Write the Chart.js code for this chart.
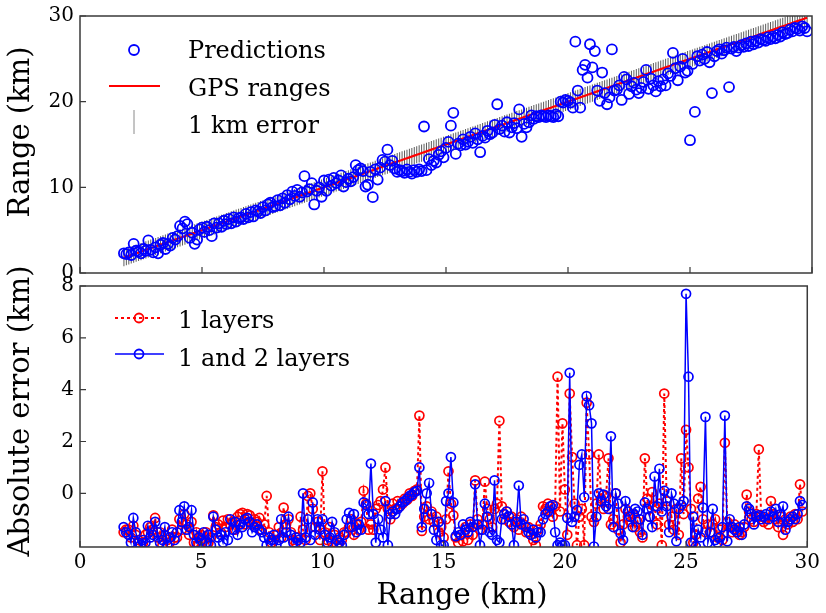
<!DOCTYPE html>
<html>
<head>
<meta charset="utf-8">
<title>Range predictions</title>
<script src="https://cdn.jsdelivr.net/npm/chart.js@4.4.1/dist/chart.umd.min.js"></script>
<style>
  html, body { margin: 0; padding: 0; background: #fff; }
  #wrap { position: relative; width: 826px; height: 613px; overflow: hidden; }
  #wrap canvas { position: absolute; left: 0; }
  #topChart { top: 0; }
  #bottomChart { top: 250px; }
</style>
</head>
<body>
<div id="wrap">
  <canvas id="topChart" width="826" height="300"></canvas>
  <canvas id="bottomChart" width="826" height="363"></canvas>
</div>
<script>
// GPS ranges (km), one per sample
const ranges = [
  1.8, 1.9,
  2.0, 2.1, 2.2, 2.3, 2.4, 2.5, 2.6, 2.7, 2.8, 2.9,
  3.0, 3.1, 3.2, 3.3, 3.4, 3.5, 3.6, 3.7, 3.8, 3.9,
  4.0, 4.1, 4.2, 4.3, 4.4, 4.5, 4.6, 4.7, 4.8, 4.9,
  5.0, 5.1, 5.2, 5.3, 5.4, 5.5, 5.6, 5.7, 5.8, 5.9,
  6.0, 6.1, 6.2, 6.3, 6.4, 6.5, 6.6, 6.7, 6.8, 6.9,
  7.0, 7.1, 7.2, 7.3, 7.4, 7.5, 7.6, 7.7, 7.8, 7.9,
  8.0, 8.1, 8.2, 8.3, 8.4, 8.5, 8.6, 8.7, 8.8, 8.9,
  9.0, 9.1, 9.2, 9.3, 9.4, 9.5, 9.6, 9.7, 9.8, 9.9,
  10.0, 10.1, 10.2, 10.3, 10.4, 10.5, 10.6, 10.7, 10.8, 10.9,
  11.0, 11.1, 11.2, 11.3, 11.4, 11.5, 11.6, 11.7, 11.8, 11.9,
  12.0, 12.1, 12.2, 12.3, 12.4, 12.5, 12.6, 12.7, 12.8, 12.9,
  13.0, 13.1, 13.2, 13.3, 13.4, 13.5, 13.6, 13.7, 13.8, 13.9,
  14.0, 14.1, 14.2, 14.3, 14.4, 14.5, 14.6, 14.7, 14.8, 14.9,
  15.0, 15.1, 15.2, 15.3, 15.4, 15.5, 15.6, 15.7, 15.8, 15.9,
  16.0, 16.1, 16.2, 16.3, 16.4, 16.5, 16.6, 16.7, 16.8, 16.9,
  17.0, 17.1, 17.2, 17.3, 17.4, 17.5, 17.6, 17.7, 17.8, 17.9,
  18.0, 18.1, 18.2, 18.3, 18.4, 18.5, 18.6, 18.7, 18.8, 18.9,
  19.0, 19.1, 19.2, 19.3, 19.4, 19.5, 19.6, 19.7, 19.8, 19.9,
  20.0, 20.1, 20.2, 20.3, 20.4, 20.5, 20.6, 20.7, 20.8, 20.9,
  21.0, 21.1, 21.2, 21.3, 21.4, 21.5, 21.6, 21.7, 21.8, 21.9,
  22.0, 22.1, 22.2, 22.3, 22.4, 22.5, 22.6, 22.7, 22.8, 22.9,
  23.0, 23.1, 23.2, 23.3, 23.4, 23.5, 23.6, 23.7, 23.8, 23.9,
  24.0, 24.1, 24.2, 24.3, 24.4, 24.5, 24.6, 24.7, 24.8, 24.9,
  25.0, 25.1, 25.2, 25.3, 25.4, 25.5, 25.6, 25.7, 25.8, 25.9,
  26.0, 26.1, 26.2, 26.3, 26.4, 26.5, 26.6, 26.7, 26.8, 26.9,
  27.0, 27.1, 27.2, 27.3, 27.4, 27.5, 27.6, 27.7, 27.8, 27.9,
  28.0, 28.1, 28.2, 28.3, 28.4, 28.5, 28.6, 28.7, 28.8, 28.9,
  29.0, 29.1, 29.2, 29.3, 29.4, 29.5, 29.6, 29.7, 29.8
];

// predicted ranges (km)
const predictions = [
  2.3, 2.2,
  2.4, 2.1, 3.4, 2.6, 2.5, 2.3, 2.8, 2.6, 3.8, 2.7,
  2.4, 3.0, 2.3, 3.3, 3.5, 2.8, 3.4, 3.2, 4.1, 3.9,
  4.3, 5.5, 5.2, 6.0, 5.7, 4.1, 4.7, 3.4, 3.9, 5.1,
  5.3, 4.8, 5.4, 5.0, 4.3, 5.8, 5.3, 5.8, 5.4, 6.1,
  5.7, 6.3, 5.8, 6.5, 6.0, 6.4, 6.5, 6.3, 6.9, 6.5,
  7.1, 6.6, 7.3, 7.2, 7.0, 7.7, 7.3, 8.0, 8.2, 7.7,
  7.8, 8.5, 7.9, 8.7, 8.2, 9.1, 8.6, 9.5, 9.0, 9.7,
  8.9, 9.4, 11.3, 9.5, 9.8, 10.5, 8.0, 9.6, 10.0, 8.9,
  10.8, 9.6, 10.9, 10.2, 11.1, 10.5, 10.8, 11.4, 10.1, 10.6,
  11.0, 10.7, 11.2, 12.6, 12.0, 12.2, 11.9, 10.1, 10.3, 11.8,
  8.85, 12.1, 10.9, 12.3, 13.2, 13.0, 14.4, 12.6, 13.1, 12.2,
  11.8, 12.0, 11.9, 11.7, 12.1, 11.8, 11.6, 12.0, 11.8, 12.1,
  11.9, 17.1, 12.0, 13.3, 12.6, 13.1, 12.9, 13.8, 14.2, 13.5,
  14.6, 15.3, 17.2, 18.7, 13.9, 15.1, 14.9, 15.6, 15.0, 15.3,
  15.9, 15.2, 16.3, 15.6, 14.1, 16.0, 15.8, 16.6, 16.2, 16.4,
  17.3, 19.7, 16.8, 17.2, 16.5, 17.6, 16.4, 17.0, 17.5, 16.9,
  19.1, 15.9, 17.4, 17.0, 17.6, 18.4, 18.0, 18.3, 18.2, 18.4,
  18.3, 18.2, 18.4, 18.3, 18.2, 18.5, 18.3, 20.0, 19.9, 20.2,
  20.1, 19.9, 19.3, 27.0, 21.3, 19.3, 23.7, 24.3, 22.8, 26.7,
  24.0, 25.9, 21.3, 20.1, 23.4, 21.0, 19.7, 20.5, 26.1, 21.3,
  21.4, 21.9, 20.2, 22.9, 22.6, 20.9, 21.8, 22.2, 21.4, 21.0,
  21.6, 22.3, 23.7, 21.5, 22.7, 21.9, 21.2, 22.4, 21.8, 22.6,
  21.9, 23.3, 23.0, 25.7, 23.9, 22.5, 24.1, 25.0, 23.4, 23.6,
  15.5, 24.4, 18.8, 25.3, 24.8, 25.5, 25.0, 25.8, 24.6, 21.0,
  25.3, 25.9, 26.1, 25.6, 26.0, 26.3, 21.7, 26.2, 26.4, 25.9,
  26.3, 26.6, 26.4, 26.8, 26.5, 27.0, 26.7, 27.1, 26.9, 27.3,
  27.2, 27.1, 27.5, 27.3, 27.6, 27.4, 27.8, 27.6, 28.1, 27.9,
  28.0, 28.4, 28.2, 28.6, 28.5, 28.3, 28.8, 28.6, 28.2
];

// absolute error, network with 1 layer
const err1Layer = [
  -1.5, -1.4,
  -1.4, -1.7, -1.25, -1.6, -1.8, -2.0, -1.9, -1.6, -1.5, -1.3,
  -1.4, -0.95, -1.7, -1.5, -2.0, -1.6, -1.8, -1.9, -1.4, -1.7,
  -1.7, -1.0, -1.4, -0.8, -1.2, -1.6, -1.1, -1.9, -1.5, -2.0,
  -1.6, -1.8, -1.5, -1.9, -1.7, -0.85, -1.3, -1.2, -1.5, -1.05,
  -1.3, -1.0, -1.2, -1.1, -1.4, -0.9, -0.8, -0.75, -1.2, -0.8,
  -0.85, -1.2, -1.0, -1.1, -0.95, -1.4, -1.2, -0.1, -1.5, -1.9,
  -1.8, -1.6, -1.3, -1.7, -0.55, -1.2, -1.0, -1.5, -1.8, -1.9,
  -1.7, -0.9, -1.4, -1.8, -0.1, 0.0, -0.6, -1.3, -1.1, -1.8,
  0.85, -1.5, -1.8, -1.3, -1.9, -1.6, -2.0, -1.7, -1.8, -1.5,
  -1.5, -1.3, -1.0, -1.6, -1.2, -1.4, -1.1, 0.1, -0.4, -1.4,
  -1.2, -1.4, -0.6, -0.45, -0.3, 0.15, 1.0, -0.6, -1.0, -0.4,
  -0.6, -0.3, -0.5, -0.4, -0.2, -0.25, 0.0, -0.1, 0.1, 0.15,
  3.0, -1.45, -0.9, -0.5, -1.0, -0.7, -1.1, -0.9, -1.5, -1.3,
  -1.7, -1.0, 0.85, -0.4, -0.85, -1.7, -1.9, -1.6, -1.85, -1.3,
  -1.8, -1.2, -1.6, 0.5, -1.0, -1.4, -1.2, 0.45, -0.6, -1.0,
  -1.3, -0.6, -0.4, 2.8, -0.5, -1.0, -0.7, -1.1, -0.9, -1.3,
  -1.0, -1.4, -0.9, -1.2, -1.5, -1.3, -1.6, -1.8, -2.0, -1.4,
  -1.2, -0.5, -0.6, -0.4, -0.7, -0.9, -0.5, 4.5, -0.7, 2.7,
  0.15, -1.6, 3.85, 1.4, -0.4, -2.0, -0.9, -0.6, -2.0, 3.5,
  1.5, -0.9, -1.1, -0.4, 1.5, -0.2, -0.6, -0.1, 1.35, -1.2,
  -1.0, 0.0, -1.4, -1.9, -1.2, -0.6, -0.9, -1.1, -0.8, -1.3,
  -1.1, -1.5, -1.7, 1.35, -0.2, -0.9, 0.05, -0.5, -1.2, -0.4,
  -2.0, 3.85, -0.3, -1.2, -0.9, -1.4, -0.6, -1.6, 1.35, -0.8,
  2.45, 1.0, -0.6, -1.9, -1.6, -0.2, 0.25, -1.0, -1.5, -1.2,
  -1.5, -1.2, -1.0, -1.7, -1.4, -1.8, 1.95, -1.1, -1.3, -1.5,
  -1.2, -1.4, -1.6, -1.5, -1.3, -0.05, -0.7, -1.0, -1.1, -0.8,
  1.7, -0.9, -1.1, -1.0, -1.2, -0.3, -0.8, -1.0, -1.3, -0.9,
  -1.6, -1.0, -1.2, -0.9, -1.1, -0.8, -1.0, 0.35, -0.7
];

// absolute error, network with 1 and 2 layers
const err12Layers = [
  -1.3, -1.5,
  -1.6, -1.9, -0.95, -1.5, -1.9, -2.0, -1.8, -1.9, -1.25, -1.7,
  -1.6, -1.1, -1.5, -1.9, -1.8, -1.3, -2.0, -1.7, -1.5, -1.8,
  -1.5, -0.65, -1.1, -0.5, -1.4, -1.3, -0.65, -1.6, -1.9, -1.7,
  -1.8, -1.5, -1.9, -1.6, -2.0, -0.9, -1.4, -1.7, -1.6, -1.9,
  -1.5, -1.8, -1.0, -1.4, -1.1, -1.6, -1.2, -1.3, -1.0, -0.95,
  -1.1, -1.5, -1.3, -1.2, -1.4, -1.5, -1.7, -2.0, -1.7, -1.8,
  -1.6, -2.0, -1.8, -1.0, -1.7, -1.5, -0.9, -1.6, -1.9, -1.7,
  -1.8, -1.9, 0.0, -1.7, -1.0, -1.8, -0.35, -1.6, -1.0, -1.4,
  -1.0, -1.6, -1.9, -1.7, -1.1, -1.5, -1.8, -1.9, -2.0, -1.6,
  -1.0, -0.75, -1.3, -0.8, -1.5, -1.2, -1.4, -0.35, -0.45, -0.8,
  1.15, -0.8, -1.9, -1.0, -1.4, -1.7, -0.3, -2.0, -0.8, -0.7,
  -0.8, -0.6, -0.5, -0.35, -0.3, -0.2, -0.1, -0.05, 0.05, 0.1,
  1.0, -1.3, -0.6, 0.0, 0.4, -0.8, -1.4, -1.8, -1.1, -2.0,
  -2.0, -0.3, 0.0, 1.4, -0.35, -1.65, -1.5, -1.6, -1.2, -1.4,
  -1.5, -1.1, -1.3, 0.35, -1.2, -2.0, -1.4, -0.4, -0.9, -1.5,
  -1.6, 0.5, -1.8, -1.9, -1.0, -0.8, -0.7, -0.9, -1.2, -2.0,
  -1.1, 0.3, -1.2, -1.0, -1.3, -1.5, -1.6, -1.4, -1.7, -1.5,
  -1.5, -1.0, -0.8, -0.7, -0.5, -0.45, -1.5, -2.0, -1.9, -2.0,
  -2.0, -0.95, 4.65, -1.1, -0.9, -0.65, 1.1, 1.5, -0.15, 3.75,
  3.4, 2.7, -2.05, -0.9, 0.0, -0.3, -0.05, -0.5, -0.6, 2.2,
  -1.3, 0.0, -0.4, -1.55, -1.8, -0.3, -0.7, -0.9, -1.3, -0.6,
  -0.7, -1.0, -1.6, -0.35, -0.6, -0.9, -1.3, 0.65, -0.5, 0.95,
  -0.7, 0.1, -0.5, -1.5, 0.0, -0.4, -1.85, -0.6, -0.45, -0.3,
  7.7, 4.5, -1.9, -0.9, -2.05, -1.4, -1.7, -0.55, 2.95, -1.9,
  -1.5, -0.6, -1.8, -1.9, -1.7, -1.3, 3.0, -1.85, -1.0, -1.3,
  -1.4, -1.5, -1.3, -1.6, -1.2, -0.5, -0.6, -0.8, -1.2, -0.9,
  -0.85, -1.0, -0.9, -0.8, -1.0, -0.7, -0.9, -0.6, -1.1, -0.8,
  -0.5, -1.4, -1.1, -1.0, -0.9, -1.0, -0.8, -0.3, -0.45
];

const xTicks = [0, 5, 10, 15, 20, 25, 30];
const rangeTicks = [0, 10, 20, 30];
const errorTicks = [0, 2, 4, 6, 8];
const topLabels = ['Predictions', 'GPS ranges', '1 km error'];
const bottomLabels = ['1 layers', '1 and 2 layers'];
const errorHalf = 1; // half length of the error bar, km

const BLUE = '#0000ff';
const RED = '#ff0000';
const GREY = '#5c5c5c';
const SERIF = '"DejaVu Serif", serif';
const tickFont = { family: SERIF, size: 20, lineHeight: 1 };
const BOTTOM_TOP = 250; // page y where the lower canvas starts

// frame round the plot with inward ticks, like matplotlib
const axesFrame = {
    id: 'axesFrame',
    afterDraw(chart) {
        const { ctx, chartArea: a, scales } = chart;
        ctx.save();
        ctx.strokeStyle = '#3a3a3a';
        ctx.lineWidth = 1.5;
        ctx.strokeRect(a.left, a.top, a.right - a.left, a.bottom - a.top);
        ctx.lineWidth = 1.2;
        ctx.beginPath();
        scales.x.ticks.forEach(t => {
            const px = scales.x.getPixelForValue(t.value);
            ctx.moveTo(px, a.bottom);
            ctx.lineTo(px, a.bottom - 6);
        });
        scales.y.ticks.forEach(t => {
            const py = scales.y.getPixelForValue(t.value);
            ctx.moveTo(a.left, py);
            ctx.lineTo(a.left + 6, py);
        });
        ctx.stroke();
        ctx.restore();
    }
};

function drawTitle(ctx, text, x, y, rotate) {
    ctx.save();
    ctx.font = '29px ' + SERIF;
    ctx.fillStyle = '#000';
    ctx.textAlign = 'center';
    ctx.textBaseline = 'alphabetic';
    ctx.translate(x, y);
    if (rotate) ctx.rotate(-Math.PI / 2);
    ctx.fillText(text, 0, 0);
    ctx.restore();
}

function circle(ctx, x, y, r, color) {
    ctx.strokeStyle = color;
    ctx.lineWidth = 1.8;
    ctx.setLineDash([]);
    ctx.beginPath();
    ctx.arc(x, y, r, 0, Math.PI * 2);
    ctx.stroke();
}

const topDecor = {
    id: 'topDecor',
    afterDraw(chart) {
        const { ctx, chartArea: a } = chart;
        const x0 = a.left, y0 = a.top;
        ctx.save();
        ctx.font = '24px ' + SERIF;
        ctx.fillStyle = '#000';
        ctx.textBaseline = 'alphabetic';

        circle(ctx, x0 + 54, y0 + 34, 5, BLUE);
        ctx.fillText(topLabels[0], x0 + 108, y0 + 42);

        ctx.strokeStyle = RED;
        ctx.lineWidth = 2;
        ctx.beginPath();
        ctx.moveTo(x0 + 29, y0 + 70);
        ctx.lineTo(x0 + 80, y0 + 70);
        ctx.stroke();
        ctx.fillText(topLabels[1], x0 + 108, y0 + 80);

        ctx.strokeStyle = '#8a8a8a';
        ctx.lineWidth = 1;
        ctx.beginPath();
        ctx.moveTo(x0 + 54, y0 + 94);
        ctx.lineTo(x0 + 54, y0 + 118);
        ctx.stroke();
        ctx.fillText(topLabels[2], x0 + 108, y0 + 117);
        ctx.restore();

        drawTitle(ctx, 'Range (km)', 29, 132, true);
    }
};

const bottomDecor = {
    id: 'bottomDecor',
    afterDraw(chart) {
        const { ctx, chartArea: a } = chart;
        const x0 = a.left, y0 = a.top;
        ctx.save();
        ctx.font = '24px ' + SERIF;
        ctx.fillStyle = '#000';
        ctx.textBaseline = 'alphabetic';

        ctx.strokeStyle = RED;
        ctx.lineWidth = 2;
        ctx.setLineDash([3, 3]);
        ctx.beginPath();
        ctx.moveTo(x0 + 35, y0 + 32);
        ctx.lineTo(x0 + 82, y0 + 32);
        ctx.stroke();
        circle(ctx, x0 + 59, y0 + 32, 4.5, RED);
        ctx.fillText(bottomLabels[0], x0 + 98, y0 + 42);

        ctx.strokeStyle = BLUE;
        ctx.lineWidth = 1.5;
        ctx.beginPath();
        ctx.moveTo(x0 + 35, y0 + 68);
        ctx.lineTo(x0 + 84, y0 + 68);
        ctx.stroke();
        circle(ctx, x0 + 59, y0 + 68, 4.5, BLUE);
        ctx.fillText(bottomLabels[1], x0 + 98, y0 + 80);
        ctx.restore();

        drawTitle(ctx, 'Absolute error (km)', 29, 411 - BOTTOM_TOP, true);
        drawTitle(ctx, 'Range (km)', 462, 604 - BOTTOM_TOP, false);
    }
};

function fixedTicks(values) {
    return function(scale) {
        scale.ticks = values.map(v => ({ value: v }));
    };
}

// top panel
new Chart(document.getElementById('topChart'), {
    type: 'scatter',
    data: {
        datasets: [
            {
                type: 'bar',
                label: topLabels[2],
                data: ranges.map(r => ({ x: r, y: [r - errorHalf, r + errorHalf] })),
                backgroundColor: GREY,
                borderWidth: 0,
                barThickness: 1,
                inflateAmount: 0,
                order: 3
            },
            {
                type: 'line',
                label: topLabels[1],
                data: ranges.map(r => ({ x: r, y: r })),
                borderColor: RED,
                borderWidth: 2.2,
                pointRadius: 0,
                fill: false,
                order: 2
            },
            {
                type: 'scatter',
                label: topLabels[0],
                data: ranges.map((r, i) => ({ x: r, y: predictions[i] })),
                borderColor: BLUE,
                backgroundColor: 'rgba(0,0,0,0)',
                borderWidth: 1.8,
                pointRadius: 5,
                order: 1
            }
        ]
    },
    options: {
        responsive: false,
        animation: false,
        events: [],
        layout: { padding: { left: 0, right: 14, top: 12, bottom: 0 } },
        plugins: { legend: { display: false }, tooltip: { enabled: false } },
        scales: {
            x: {
                type: 'linear', min: 0, max: 30, offset: false,
                afterBuildTicks: fixedTicks(xTicks),
                afterFit: s => { s.height = 27; },
                ticks: { display: false },
                grid: { display: false, drawTicks: false },
                border: { display: false }
            },
            y: {
                type: 'linear', min: 0, max: 30,
                afterBuildTicks: fixedTicks(rangeTicks),
                afterFit: s => { s.width = 80; },
                ticks: { font: tickFont, color: '#000', padding: 6 },
                grid: { display: false, drawTicks: false },
                border: { display: false }
            }
        }
    },
    plugins: [axesFrame, topDecor]
});

// bottom panel
new Chart(document.getElementById('bottomChart'), {
    type: 'line',
    data: {
        datasets: [
            {
                label: bottomLabels[0],
                data: ranges.map((r, i) => ({ x: r, y: err1Layer[i] })),
                borderColor: RED,
                borderWidth: 2,
                borderDash: [3, 3],
                pointRadius: 4.5,
                pointBorderColor: RED,
                pointBackgroundColor: 'rgba(0,0,0,0)',
                pointBorderWidth: 1.7,
                tension: 0,
                fill: false,
                order: 2
            },
            {
                label: bottomLabels[1],
                data: ranges.map((r, i) => ({ x: r, y: err12Layers[i] })),
                borderColor: BLUE,
                borderWidth: 1.5,
                pointRadius: 4.5,
                pointBorderColor: BLUE,
                pointBackgroundColor: 'rgba(0,0,0,0)',
                pointBorderWidth: 1.7,
                tension: 0,
                fill: false,
                order: 1
            }
        ]
    },
    options: {
        responsive: false,
        animation: false,
        events: [],
        layout: { padding: { left: 0, right: 14, top: 286 - BOTTOM_TOP, bottom: 0 } },
        plugins: { legend: { display: false }, tooltip: { enabled: false } },
        scales: {
            x: {
                type: 'linear', min: 0, max: 30,
                afterBuildTicks: fixedTicks(xTicks),
                afterFit: s => { s.height = 66; },
                ticks: { font: tickFont, color: '#000', padding: 6, maxRotation: 0 },
                grid: { display: false, drawTicks: false },
                border: { display: false }
            },
            y: {
                type: 'linear', min: -2.07, max: 8,
                afterBuildTicks: fixedTicks(errorTicks),
                afterFit: s => { s.width = 80; },
                ticks: { font: tickFont, color: '#000', padding: 6 },
                grid: { display: false, drawTicks: false },
                border: { display: false }
            }
        }
    },
    plugins: [axesFrame, bottomDecor]
});
</script>
</body>
</html>
